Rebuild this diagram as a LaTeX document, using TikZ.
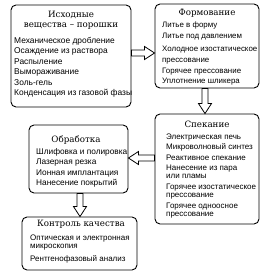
\documentclass[tikz,border=0pt]{standalone}
\usepackage{fontspec}
\usepackage{tikz}
\usetikzlibrary{calc}
\newfontfamily\titlefont{DejaVu Serif}
\newfontfamily\itemfont{Liberation Sans}
\tikzset{
  flow box/.style={draw,line width=.9pt,rounded corners=5pt,inner sep=0pt},
  flow title/.style={font=\titlefont\fontsize{8.7}{10}\selectfont,align=center,anchor=north,inner sep=0pt},
  flow items/.style 2 args={font=\itemfont\fontsize{#1}{#2}\selectfont,align=left,anchor=north west,inner sep=0pt},
  flow arrow/.style={draw,line width=.8pt,fill=white,line join=miter,to path={
    -- ($(\tikztostart)!3pt!90:(\tikztotarget)$)
    -- ($($(\tikztotarget)!10pt!(\tikztostart)$)!3pt!-90:(\tikztostart)$)
    -- ($($(\tikztotarget)!10pt!(\tikztostart)$)!6.5pt!-90:(\tikztostart)$)
    -- (\tikztotarget)
    -- ($($(\tikztotarget)!10pt!(\tikztostart)$)!6.5pt!90:(\tikztostart)$)
    -- ($($(\tikztotarget)!10pt!(\tikztostart)$)!3pt!90:(\tikztostart)$)
    -- ($(\tikztostart)!3pt!-90:(\tikztotarget)$) -- cycle}}
}
\begin{document}
\begin{tikzpicture}[x=1pt,y=-1pt]
  \useasboundingbox (0,0) rectangle (269,274);
  \node[flow box,minimum width=120pt,minimum height=102pt] (b1) at (71,56) {};
  \node[flow box,minimum width=104pt,minimum height=84pt] (b2) at (207,46) {};
  \node[flow box,minimum width=104pt,minimum height=110pt] (b3) at (207,169) {};
  \node[flow box,minimum width=99pt,minimum height=68pt] (b4) at (78.5,159) {};
  \node[flow box,minimum width=115pt,minimum height=53pt] (b5) at (79.5,243.5) {};
  \node[flow title] (t1) at (71,10.9) {Исходные\\вещества – порошки};
  \node[flow items={8.4}{10.4}] (i1) at (14,37.2) {Механическое дробление\\Осаждение из раствора\\Распыление\\Вымораживание\\Золь-гель\\Конденсация из газовой фазы};
  \node[flow title] (t2) at (207,8.9) {Формование};
  \node[flow items={7.9}{10.7}] (i2) at (162,21.4) {Литье в форму\\Литье под давлением\\[3pt]Холодное изостатическое\\прессование\\Горячее прессование\\Уплотнение шликера};
  \node[flow title] (t3) at (207,121.2) {Спекание};
  \node[flow items={8}{8.3}] (i3) at (166,133.3) {Электрическая печь\\[2.2pt]Микроволновый синтез\\[2.2pt]Реактивное спекание\\[2.2pt]Нанесение из пара\\или пламы\\[2.2pt]Горячее изостатическое\\прессование\\[2.2pt]Горячее одноосное\\прессование};
  \node[flow title] (t4) at (76,135.9) {Обработка};
  \node[flow items={8.3}{10.3}] (i4) at (36,148.3) {Шлифовка и полировка\\Лазерная резка\\Ионная имплантация\\Нанесение покрытий};
  \node[flow title] (t5) at (81,220.4) {Контроль качества};
  \node[flow items={8}{8.5}] (i5) at (30,234.3) {Оптическая и электронная\\микроскопия\\[4pt]Рентгенофазовый анализ};
  \coordinate (a1) at (0,53);
  \coordinate (a2) at (205,0);
  \coordinate (a3) at (0,158);
  \coordinate (a4) at (80,0);
  \draw[flow arrow] (b1.east |- a1) to (b2.west |- a1);
  \draw[flow arrow] (b2.south -| a2) to (b3.north -| a2);
  \draw[flow arrow] (b3.west |- a3) to (b4.east |- a3);
  \draw[flow arrow] (b4.south -| a4) to (b5.north -| a4);
\end{tikzpicture}
\end{document}
